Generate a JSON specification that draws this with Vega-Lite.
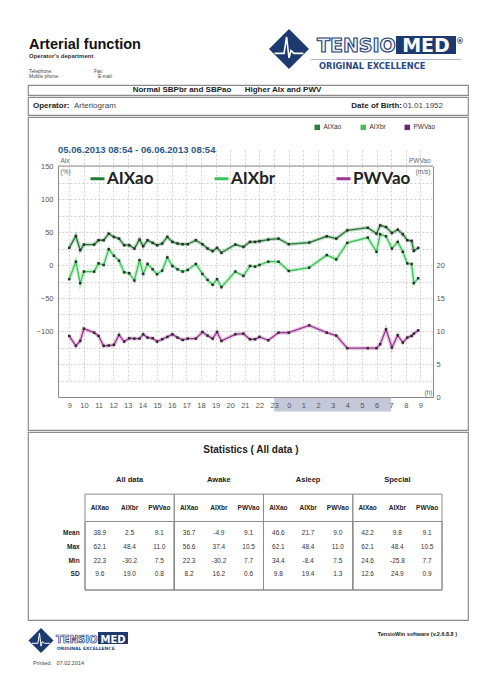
{
  "$schema": "https://vega.github.io/schema/vega-lite/v6.json",
  "background": "white",
  "padding": {"top": 29, "left": 27, "right": 17, "bottom": 0},
  "spacing": 0,
  "resolve": {"scale": {"color": "independent", "fill": "independent"}, "legend": {"color": "independent", "fill": "independent"}},
  "config": {
    "view": {"stroke": null},
    "font": "Liberation Sans",
    "title": {"font": "Liberation Sans"},
    "axis": {"labelFont": "Liberation Sans", "titleFont": "Liberation Sans"},
    "legend": {"labelFont": "Liberation Sans"}
  },
  "datasets": {
    "chart": [
      {"t": 9.0, "AIXao": 26, "AIXbr": -21.5, "PWVao": 9.25},
      {"t": 9.45, "AIXao": 44, "AIXbr": 5, "PWVao": 7.75},
      {"t": 9.75, "AIXao": 22.5, "AIXbr": -27.5, "PWVao": 8.5},
      {"t": 10.0, "AIXao": 31, "AIXbr": -10, "PWVao": 10.35},
      {"t": 10.7, "AIXao": 31, "AIXbr": -10, "PWVao": 9.75},
      {"t": 11.0, "AIXao": 37.5, "AIXbr": 2.5, "PWVao": 9.25},
      {"t": 11.35, "AIXao": 37.5, "AIXbr": 0, "PWVao": 7.75},
      {"t": 11.7, "AIXao": 47.5, "AIXbr": 24, "PWVao": 7.8},
      {"t": 12.05, "AIXao": 42.5, "AIXbr": 14, "PWVao": 7.9},
      {"t": 12.4, "AIXao": 40, "AIXbr": 6.5, "PWVao": 9.4},
      {"t": 12.75, "AIXao": 30, "AIXbr": -11, "PWVao": 8.4},
      {"t": 13.1, "AIXao": 30, "AIXbr": -12.5, "PWVao": 8.9},
      {"t": 13.45, "AIXao": 25, "AIXbr": -23.5, "PWVao": 8.85},
      {"t": 13.8, "AIXao": 38.5, "AIXbr": 7.5, "PWVao": 8.85},
      {"t": 14.05, "AIXao": 28.5, "AIXbr": -13.5, "PWVao": 9.5},
      {"t": 14.35, "AIXao": 37.5, "AIXbr": 1.5, "PWVao": 9.0},
      {"t": 14.7, "AIXao": 33.5, "AIXbr": -6.5, "PWVao": 8.9},
      {"t": 15.0, "AIXao": 30, "AIXbr": -14, "PWVao": 8.4},
      {"t": 15.35, "AIXao": 32.5, "AIXbr": -8.5, "PWVao": 8.75},
      {"t": 15.7, "AIXao": 42.5, "AIXbr": 11.5, "PWVao": 9.1},
      {"t": 16.05, "AIXao": 35, "AIXbr": -1.5, "PWVao": 9.5},
      {"t": 16.4, "AIXao": 32.5, "AIXbr": -6.5, "PWVao": 9.0},
      {"t": 16.75, "AIXao": 31.5, "AIXbr": -10, "PWVao": 8.65},
      {"t": 17.1, "AIXao": 31.5, "AIXbr": -7.5, "PWVao": 8.85},
      {"t": 17.65, "AIXao": 37.5, "AIXbr": 1.5, "PWVao": 8.85},
      {"t": 18.1, "AIXao": 31.5, "AIXbr": -13.5, "PWVao": 9.85},
      {"t": 18.45, "AIXao": 25, "AIXbr": -22.5, "PWVao": 9.3},
      {"t": 18.8, "AIXao": 21, "AIXbr": -30, "PWVao": 8.85},
      {"t": 19.1, "AIXao": 26, "AIXbr": -21.5, "PWVao": 9.85},
      {"t": 19.4, "AIXao": 18.5, "AIXbr": -33.5, "PWVao": 8.5},
      {"t": 20.35, "AIXao": 31, "AIXbr": -10, "PWVao": 9.5},
      {"t": 20.9, "AIXao": 27.5, "AIXbr": -16.5, "PWVao": 9.6},
      {"t": 21.35, "AIXao": 35, "AIXbr": -1.5, "PWVao": 8.75},
      {"t": 21.7, "AIXao": 35, "AIXbr": -2.5, "PWVao": 8.75},
      {"t": 22.0, "AIXao": 36, "AIXbr": 0, "PWVao": 9.1},
      {"t": 22.6, "AIXao": 38.5, "AIXbr": 5, "PWVao": 8.6},
      {"t": 23.3, "AIXao": 40, "AIXbr": 5, "PWVao": 9.75},
      {"t": 24.0, "AIXao": 31.5, "AIXbr": -9, "PWVao": 9.75},
      {"t": 25.4, "AIXao": 34, "AIXbr": -4, "PWVao": 10.85},
      {"t": 26.6, "AIXao": 43.5, "AIXbr": 15, "PWVao": 9.75},
      {"t": 27.25, "AIXao": 40, "AIXbr": 8.5, "PWVao": 9.3},
      {"t": 28.0, "AIXao": 52.5, "AIXbr": 33.5, "PWVao": 7.4},
      {"t": 29.4, "AIXao": 56.5, "AIXbr": 41.5, "PWVao": 7.4},
      {"t": 30.0, "AIXao": 47.5, "AIXbr": 20, "PWVao": 7.4},
      {"t": 30.25, "AIXao": 60, "AIXbr": 46.5, "PWVao": 8.0},
      {"t": 30.65, "AIXao": 57.5, "AIXbr": 43.5, "PWVao": 10.25},
      {"t": 31.05, "AIXao": 48.5, "AIXbr": 25, "PWVao": 7.5},
      {"t": 31.45, "AIXao": 53.5, "AIXbr": 35, "PWVao": 9.35},
      {"t": 31.8, "AIXao": 46.5, "AIXbr": 20, "PWVao": 8.25},
      {"t": 32.1, "AIXao": 37.5, "AIXbr": 2.5, "PWVao": 9.0},
      {"t": 32.4, "AIXao": 36.5, "AIXbr": 1.5, "PWVao": 9.25},
      {"t": 32.55, "AIXao": 21.5, "AIXbr": -27.5, "PWVao": 9.6},
      {"t": 32.85, "AIXao": 26, "AIXbr": -20, "PWVao": 10.1}
    ],
    "night": [{"period": "asleep", "start": 23, "end": 31}],
    "frame": [{"edge": "top", "from": 8.23, "to": 33.86, "level": 150}],
    "logo": [{"brand": "TENSIOMED"}],
    "groups": [{"group": "All data"}, {"group": "Awake"}, {"group": "Asleep"}, {"group": "Special"}],
    "metrics": [
      {"group": "All data", "metric": "AIXao"}, {"group": "All data", "metric": "AIXbr"}, {"group": "All data", "metric": "PWVao"},
      {"group": "Awake", "metric": "AIXao"}, {"group": "Awake", "metric": "AIXbr"}, {"group": "Awake", "metric": "PWVao"},
      {"group": "Asleep", "metric": "AIXao"}, {"group": "Asleep", "metric": "AIXbr"}, {"group": "Asleep", "metric": "PWVao"},
      {"group": "Special", "metric": "AIXao"}, {"group": "Special", "metric": "AIXbr"}, {"group": "Special", "metric": "PWVao"}
    ],
    "rowlabels": [{"stat": "Mean"}, {"stat": "Max"}, {"stat": "Min"}, {"stat": "SD"}],
    "stats": [
      {"group": "All data", "stat": "Mean", "metric": "AIXao", "value": "38.9"},
      {"group": "All data", "stat": "Mean", "metric": "AIXbr", "value": "2.5"},
      {"group": "All data", "stat": "Mean", "metric": "PWVao", "value": "9.1"},
      {"group": "All data", "stat": "Max", "metric": "AIXao", "value": "62.1"},
      {"group": "All data", "stat": "Max", "metric": "AIXbr", "value": "48.4"},
      {"group": "All data", "stat": "Max", "metric": "PWVao", "value": "11.0"},
      {"group": "All data", "stat": "Min", "metric": "AIXao", "value": "22.3"},
      {"group": "All data", "stat": "Min", "metric": "AIXbr", "value": "-30.2"},
      {"group": "All data", "stat": "Min", "metric": "PWVao", "value": "7.5"},
      {"group": "All data", "stat": "SD", "metric": "AIXao", "value": "9.6"},
      {"group": "All data", "stat": "SD", "metric": "AIXbr", "value": "19.0"},
      {"group": "All data", "stat": "SD", "metric": "PWVao", "value": "0.8"},
      {"group": "Awake", "stat": "Mean", "metric": "AIXao", "value": "36.7"},
      {"group": "Awake", "stat": "Mean", "metric": "AIXbr", "value": "-4.9"},
      {"group": "Awake", "stat": "Mean", "metric": "PWVao", "value": "9.1"},
      {"group": "Awake", "stat": "Max", "metric": "AIXao", "value": "56.6"},
      {"group": "Awake", "stat": "Max", "metric": "AIXbr", "value": "37.4"},
      {"group": "Awake", "stat": "Max", "metric": "PWVao", "value": "10.5"},
      {"group": "Awake", "stat": "Min", "metric": "AIXao", "value": "22.3"},
      {"group": "Awake", "stat": "Min", "metric": "AIXbr", "value": "-30.2"},
      {"group": "Awake", "stat": "Min", "metric": "PWVao", "value": "7.7"},
      {"group": "Awake", "stat": "SD", "metric": "AIXao", "value": "8.2"},
      {"group": "Awake", "stat": "SD", "metric": "AIXbr", "value": "16.2"},
      {"group": "Awake", "stat": "SD", "metric": "PWVao", "value": "0.6"},
      {"group": "Asleep", "stat": "Mean", "metric": "AIXao", "value": "46.6"},
      {"group": "Asleep", "stat": "Mean", "metric": "AIXbr", "value": "21.7"},
      {"group": "Asleep", "stat": "Mean", "metric": "PWVao", "value": "9.0"},
      {"group": "Asleep", "stat": "Max", "metric": "AIXao", "value": "62.1"},
      {"group": "Asleep", "stat": "Max", "metric": "AIXbr", "value": "48.4"},
      {"group": "Asleep", "stat": "Max", "metric": "PWVao", "value": "11.0"},
      {"group": "Asleep", "stat": "Min", "metric": "AIXao", "value": "34.4"},
      {"group": "Asleep", "stat": "Min", "metric": "AIXbr", "value": "-8.4"},
      {"group": "Asleep", "stat": "Min", "metric": "PWVao", "value": "7.5"},
      {"group": "Asleep", "stat": "SD", "metric": "AIXao", "value": "9.8"},
      {"group": "Asleep", "stat": "SD", "metric": "AIXbr", "value": "19.4"},
      {"group": "Asleep", "stat": "SD", "metric": "PWVao", "value": "1.3"},
      {"group": "Special", "stat": "Mean", "metric": "AIXao", "value": "42.2"},
      {"group": "Special", "stat": "Mean", "metric": "AIXbr", "value": "9.8"},
      {"group": "Special", "stat": "Mean", "metric": "PWVao", "value": "9.1"},
      {"group": "Special", "stat": "Max", "metric": "AIXao", "value": "62.1"},
      {"group": "Special", "stat": "Max", "metric": "AIXbr", "value": "48.4"},
      {"group": "Special", "stat": "Max", "metric": "PWVao", "value": "10.5"},
      {"group": "Special", "stat": "Min", "metric": "AIXao", "value": "24.6"},
      {"group": "Special", "stat": "Min", "metric": "AIXbr", "value": "-25.8"},
      {"group": "Special", "stat": "Min", "metric": "PWVao", "value": "7.7"},
      {"group": "Special", "stat": "SD", "metric": "AIXao", "value": "12.6"},
      {"group": "Special", "stat": "SD", "metric": "AIXbr", "value": "24.9"},
      {"group": "Special", "stat": "SD", "metric": "PWVao", "value": "0.9"}
    ],
    "info": [
      {"side": "left", "label": "Operator:", "value": "Arteriogram"},
      {"side": "right", "label": "Date of Birth:", "value": "01.01.1952"}
    ]
  },
  "vconcat": [
    {
      "width": 440, "height": 1,
      "title": {
        "text": "Arterial function", "anchor": "start", "frame": "group", "dx": 1,
        "fontSize": 14.5, "fontWeight": "bold", "color": "#111",
        "subtitle": "Operator's department", "subtitleFontSize": 6, "subtitleFontWeight": "bold", "subtitleColor": "#333",
        "subtitlePadding": 0.5, "offset": -30.5
      },
      "layer": [
        {"data": {"values": [{"label": "Telephone:"}]}, "mark": {"type": "text", "align": "left", "baseline": "alphabetic", "fontSize": 4.8, "color": "#444", "dx": -219, "dy": -10.5}, "encoding": {"text": {"field": "label"}}},
        {"data": {"values": [{"label": "Fax:"}]}, "mark": {"type": "text", "align": "left", "baseline": "alphabetic", "fontSize": 4.8, "color": "#444", "dx": -154, "dy": -10.5}, "encoding": {"text": {"field": "label"}}},
        {"data": {"values": [{"label": "Mobile phone:"}]}, "mark": {"type": "text", "align": "left", "baseline": "alphabetic", "fontSize": 4.8, "color": "#444", "dx": -219, "dy": -5.5}, "encoding": {"text": {"field": "label"}}},
        {"data": {"values": [{"label": "E-mail:"}]}, "mark": {"type": "text", "align": "left", "baseline": "alphabetic", "fontSize": 4.8, "color": "#444", "dx": -150, "dy": -5.5}, "encoding": {"text": {"field": "label"}}},
        {"data": {"name": "logo"}, "mark": {"type": "point", "shape": "M-1,0L1,0", "size": 22500, "filled": false, "color": "#9aa8c0", "strokeWidth": 0.8, "opacity": 1, "xOffset": 138, "yOffset": -24}, "encoding": {}},
        {"data": {"name": "logo"}, "mark": {"type": "point", "shape": "diamond", "size": 1600, "filled": true, "color": "#1d3a70", "opacity": 1, "xOffset": 41, "yOffset": -34.5}, "encoding": {}},
        {"data": {"name": "logo"}, "mark": {"type": "point", "shape": "M-0.72,0.22L-0.25,0.22L-0.12,-0.6L0,0.45L0.1,0.08L0.25,0.22L0.72,0.22", "size": 1600, "filled": false, "color": "white", "strokeWidth": 1.6, "opacity": 1, "xOffset": 41, "yOffset": -34.5}, "encoding": {}},
        {"data": {"name": "logo"}, "mark": {"type": "point", "shape": "M-1,-0.3L1,-0.3L1,0.3L-1,0.3Z", "size": 3600, "filled": true, "color": "#1d3a70", "opacity": 1, "xOffset": 178, "yOffset": -38.5}, "encoding": {}},
        {"data": {"values": [{"part": "TENSIO"}]}, "mark": {"type": "text", "align": "left", "baseline": "alphabetic", "font": "DejaVu Sans", "fontSize": 19, "fontWeight": "bold", "fill": "#eef2fa", "stroke": "#1d3a70", "strokeWidth": 1.1, "dx": 69, "dy": -31.5}, "encoding": {"text": {"field": "part"}}},
        {"data": {"values": [{"part": "MED"}]}, "mark": {"type": "text", "align": "center", "baseline": "alphabetic", "font": "DejaVu Sans", "fontSize": 19, "fontWeight": "bold", "color": "white", "dx": 178, "dy": -31.5}, "encoding": {"text": {"field": "part"}}},
        {"data": {"values": [{"part": "®"}]}, "mark": {"type": "text", "align": "center", "baseline": "alphabetic", "font": "DejaVu Sans", "fontSize": 8, "fontWeight": "bold", "color": "#1d3a70", "dx": 212, "dy": -40}, "encoding": {"text": {"field": "part"}}},
        {"data": {"values": [{"part": "ORIGINAL EXCELLENCE"}]}, "mark": {"type": "text", "align": "left", "baseline": "alphabetic", "font": "DejaVu Sans", "fontSize": 8.3, "fontWeight": "bold", "color": "#2a4a86", "dx": 71, "dy": -14.5}, "encoding": {"text": {"field": "part"}}}
      ]
    },
    {
      "width": 440, "height": 10,
      "view": {"stroke": "#8c8c8c", "strokeWidth": 1.2},
      "data": {"values": [{"summary": "Normal SBPbr and SBPao\u00a0\u00a0\u00a0\u00a0\u00a0\u00a0Higher AIx and PWV"}]},
      "mark": {"type": "text", "fontSize": 8, "fontWeight": "bold", "color": "#222", "dx": -21},
      "encoding": {"text": {"field": "summary"}}
    },
    {
      "width": 440, "height": 18,
      "view": {"stroke": "#8c8c8c", "strokeWidth": 1.2},
      "data": {"name": "info"},
      "encoding": {
        "x": {"field": "side", "type": "nominal", "scale": {"type": "point", "domain": ["left", "right"], "range": [5, 415], "padding": 0}, "axis": null}
      },
      "layer": [
        {"transform": [{"filter": "datum.side == 'left'"}], "mark": {"type": "text", "align": "left", "fontSize": 8, "fontWeight": "bold", "color": "#222"}, "encoding": {"text": {"field": "label"}}},
        {"transform": [{"filter": "datum.side == 'left'"}], "mark": {"type": "text", "align": "left", "fontSize": 8, "color": "#444", "dx": 41}, "encoding": {"text": {"field": "value"}}},
        {"transform": [{"filter": "datum.side == 'right'"}], "mark": {"type": "text", "align": "right", "fontSize": 8, "fontWeight": "bold", "color": "#222", "dx": -41}, "encoding": {"text": {"field": "label"}}},
        {"transform": [{"filter": "datum.side == 'right'"}], "mark": {"type": "text", "align": "right", "fontSize": 8, "color": "#444"}, "encoding": {"text": {"field": "value"}}}
      ]
    },
    {
      "width": 440, "height": 313,
      "view": {"stroke": "#8c8c8c", "strokeWidth": 1.2},
      "layer": [
        {
          "data": {"name": "night"},
          "mark": {"type": "rect", "color": "#c4c8d8", "clip": false},
          "encoding": {
            "x": {"field": "start", "type": "quantitative",
              "scale": {"domain": [8.23, 33.86], "range": [30, 405], "nice": false, "zero": false},
              "axis": {"orient": "bottom", "offset": -33, "values": [9,10,11,12,13,14,15,16,17,18,19,20,21,22,23,24,25,26,27,28,29,30,31,32,33], "labels": false, "ticks": false, "domain": false, "grid": true, "gridColor": "#c4c4c4", "gridDash": [2, 2], "gridWidth": 0.8, "title": null, "zindex": 0}},
            "x2": {"field": "end"},
            "y": {"datum": -200, "type": "quantitative", "scale": {"domain": [-200, 150], "range": [280, 49], "nice": false, "zero": false}, "axis": null},
            "y2": {"datum": -222}
          }
        },
        {
          "data": {"name": "frame"},
          "mark": {"type": "rule", "color": "#8a8a8a", "strokeWidth": 1},
          "encoding": {
            "x": {"field": "from", "type": "quantitative", "axis": null},
            "x2": {"field": "to"},
            "y": {"field": "level", "type": "quantitative", "scale": {"domain": [-200, 150], "range": [280, 49], "nice": false, "zero": false}, "axis": null}
          }
        },
        {
          "data": {"values": [{"period": "05.06.2013 08:54 - 06.06.2013 08:54"}]},
          "mark": {"type": "text", "align": "left", "baseline": "alphabetic", "fontSize": 9.5, "fontWeight": "bold", "color": "#2c5a88", "clip": false},
          "encoding": {
            "text": {"field": "period"},
            "x": {"datum": 8.23, "type": "quantitative", "axis": null},
            "y": {"datum": 169.7, "type": "quantitative", "scale": {"domain": [-200, 150], "range": [280, 49], "nice": false, "zero": false}, "axis": null}
          }
        },
        {
          "data": {"name": "chart"},
          "transform": [{"fold": ["AIXao", "AIXbr"], "as": ["series", "value"]}],
          "mark": {"type": "line", "strokeWidth": 1.3},
          "encoding": {
            "x": {"field": "t", "type": "quantitative",
              "axis": {"orient": "bottom", "offset": -33, "values": [9,10,11,12,13,14,15,16,17,18,19,20,21,22,23,24,25,26,27,28,29,30,31,32,33], "labelExpr": "datum.value % 24", "grid": false, "ticks": false, "domainColor": "#8a8a8a", "labelFontSize": 7.5, "labelColor": "#555", "labelPadding": 4, "title": "(h)", "titleX": 404, "titleY": -3, "titleAlign": "right", "titleBaseline": "alphabetic", "titleFontSize": 6.5, "titleFontWeight": "normal", "titleColor": "#666", "zindex": 1}},
            "y": {"field": "value", "type": "quantitative",
              "scale": {"domain": [-200, 150], "range": [280, 49], "nice": false, "zero": false},
              "axis": {"orient": "left", "offset": -30, "values": [-200,-175,-150,-125,-100,-75,-50,-25,0,25,50,75,100,125,150], "labelExpr": "datum.value % 50 === 0 && datum.value >= -100 ? datum.label : ''", "grid": true, "gridColor": "#c4c4c4", "gridDash": [2, 2], "gridWidth": 0.8, "ticks": false, "domainColor": "#8a8a8a", "labelFontSize": 7.5, "labelColor": "#555", "labelPadding": 5, "title": ["Aix", "(%)"], "titleAngle": 0, "titleAlign": "left", "titleBaseline": "alphabetic", "titleX": 2, "titleY": 45, "titleLineHeight": 11, "titleFontSize": 6.5, "titleFontWeight": "normal", "titleColor": "#666"}},
            "color": {"field": "series", "type": "nominal",
              "scale": {"domain": {"unionWith": ["AIXao", "AIXbr", "PWVao"]}, "range": ["#237a35", "#3cc35a", "#9a3590"]},
              "legend": {"orient": "none", "legendX": 61, "legendY": 53, "direction": "horizontal", "title": null, "symbolType": "stroke", "symbolSize": 196, "symbolStrokeWidth": 3, "symbolOpacity": 1, "labelFontSize": 17, "labelFont": "Lato", "labelFontWeight": "bold", "labelColor": "#222", "columnPadding": 54, "labelOffset": 1}}
          }
        },
        {
          "data": {"name": "chart"},
          "transform": [{"fold": ["AIXao", "AIXbr"], "as": ["series", "value"]}],
          "mark": {"type": "line", "strokeWidth": 4, "opacity": 0.25},
          "encoding": {
            "x": {"field": "t", "type": "quantitative", "axis": null},
            "y": {"field": "value", "type": "quantitative", "scale": {"domain": [-200, 150], "range": [280, 49], "nice": false, "zero": false}, "axis": null},
            "color": {"field": "series", "type": "nominal",
              "legend": {"orient": "none", "legendX": 61, "legendY": 53, "direction": "horizontal", "title": null, "symbolType": "stroke", "symbolSize": 196, "symbolStrokeWidth": 3, "symbolOpacity": 1, "labelFontSize": 17, "labelFont": "Lato", "labelFontWeight": "bold", "labelColor": "#222", "columnPadding": 54, "labelOffset": 1}}
          }
        },
        {
          "data": {"name": "chart"},
          "transform": [{"fold": ["AIXao", "AIXbr"], "as": ["series", "value"]}],
          "mark": {"type": "square", "size": 6, "color": "#2b2b2b", "opacity": 1},
          "encoding": {
            "x": {"field": "t", "type": "quantitative", "axis": null},
            "y": {"field": "value", "type": "quantitative", "scale": {"domain": [-200, 150], "range": [280, 49], "nice": false, "zero": false}, "axis": null}
          }
        },
        {
          "data": {"name": "chart"},
          "transform": [{"fold": ["AIXao", "AIXbr"], "as": ["series", "value"]}],
          "mark": {"type": "square", "opacity": 0},
          "encoding": {
            "x": {"field": "t", "type": "quantitative", "axis": null},
            "y": {"field": "value", "type": "quantitative", "scale": {"domain": [-200, 150], "range": [280, 49], "nice": false, "zero": false}, "axis": null},
            "fill": {"field": "series", "type": "nominal",
              "scale": {"domain": ["AIXao", "AIXbr", "PWVao"], "range": ["#2e7d3c", "#4cbb5c", "#6b2a6b"]},
              "legend": {"orient": "none", "legendX": 286, "legendY": 7, "direction": "horizontal", "title": null, "symbolType": "square", "symbolSize": 30, "symbolOpacity": 1, "symbolStrokeWidth": 0, "labelFontSize": 6.5, "labelColor": "#333", "columnPadding": 18, "labelOffset": 3}}
          }
        },
        {
          "data": {"name": "chart"},
          "mark": {"type": "line", "strokeWidth": 1.3},
          "encoding": {
            "x": {"field": "t", "type": "quantitative", "axis": null},
            "y": {"field": "PWVao", "type": "quantitative",
              "scale": {"domain": [0, 35], "range": [280, 49], "nice": false, "zero": false},
              "axis": {"orient": "right", "offset": -35, "values": [0, 5, 10, 15, 20], "grid": false, "ticks": false, "domainColor": "#8a8a8a", "labelFontSize": 7.5, "labelColor": "#555", "labelPadding": 3, "title": ["PWVao", "(m/s)"], "titleAngle": 0, "titleAlign": "right", "titleBaseline": "alphabetic", "titleX": -3, "titleY": 45, "titleLineHeight": 11, "titleFontSize": 6.5, "titleFontWeight": "normal", "titleColor": "#666"}},
            "color": {"datum": "PWVao", "type": "nominal",
              "legend": {"orient": "none", "legendX": 61, "legendY": 53, "direction": "horizontal", "title": null, "symbolType": "stroke", "symbolSize": 196, "symbolStrokeWidth": 3, "symbolOpacity": 1, "labelFontSize": 17, "labelFont": "Lato", "labelFontWeight": "bold", "labelColor": "#222", "columnPadding": 54, "labelOffset": 1}}
          }
        },
        {
          "data": {"name": "chart"},
          "mark": {"type": "line", "strokeWidth": 4, "opacity": 0.25},
          "encoding": {
            "x": {"field": "t", "type": "quantitative", "axis": null},
            "y": {"field": "PWVao", "type": "quantitative", "scale": {"domain": [0, 35], "range": [280, 49], "nice": false, "zero": false}, "axis": null},
            "color": {"datum": "PWVao", "type": "nominal",
              "legend": {"orient": "none", "legendX": 61, "legendY": 53, "direction": "horizontal", "title": null, "symbolType": "stroke", "symbolSize": 196, "symbolStrokeWidth": 3, "symbolOpacity": 1, "labelFontSize": 17, "labelFont": "Lato", "labelFontWeight": "bold", "labelColor": "#222", "columnPadding": 54, "labelOffset": 1}}
          }
        },
        {
          "data": {"name": "chart"},
          "mark": {"type": "square", "size": 6, "color": "#2b2b2b", "opacity": 1},
          "encoding": {
            "x": {"field": "t", "type": "quantitative", "axis": null},
            "y": {"field": "PWVao", "type": "quantitative", "scale": {"domain": [0, 35], "range": [280, 49], "nice": false, "zero": false}, "axis": null}
          }
        }
      ],
      "resolve": {"scale": {"y": "independent"}, "axis": {"x": "independent", "y": "independent"}}
    },
    {
      "width": 440, "height": 188,
      "view": {"stroke": "#8c8c8c", "strokeWidth": 1.2},
      "layer": [
        {
          "data": {"name": "groups"},
          "mark": {"type": "rect", "filled": false, "stroke": "#8c8c8c", "strokeWidth": 1},
          "encoding": {
            "x": {"field": "group", "type": "nominal", "scale": {"type": "band", "domain": ["All data", "Awake", "Asleep", "Special"], "range": [57, 414], "paddingInner": 0, "paddingOuter": 0}, "axis": null},
            "y": {"datum": "_a", "type": "ordinal", "scale": {"type": "point", "domain": ["ttl", "_t", "grp", "_a", "met", "_b", "Mean", "Max", "Min", "SD", "_c"], "range": [21, 158], "padding": 0}, "axis": null},
            "y2": {"datum": "_c"}
          }
        },
        {
          "data": {"name": "groups"},
          "mark": {"type": "rect", "filled": false, "stroke": "#8c8c8c", "strokeWidth": 1},
          "encoding": {
            "x": {"field": "group", "type": "nominal", "axis": null},
            "y": {"datum": "_b", "type": "ordinal", "axis": null},
            "y2": {"datum": "_c"}
          }
        },
        {
          "data": {"values": [{"heading": "Statistics ( All data )"}]},
          "mark": {"type": "text", "fontSize": 10, "fontWeight": "bold", "color": "#222", "baseline": "alphabetic", "dx": 32},
          "encoding": {
            "x": {"datum": "Awake", "type": "nominal", "axis": null},
            "y": {"datum": "ttl", "type": "ordinal", "axis": null},
            "text": {"field": "heading"}
          }
        },
        {
          "data": {"name": "groups"},
          "mark": {"type": "text", "fontSize": 7.5, "fontWeight": "bold", "color": "#222"},
          "encoding": {
            "x": {"field": "group", "type": "nominal", "axis": null},
            "y": {"datum": "grp", "type": "ordinal", "axis": null},
            "text": {"field": "group"}
          }
        },
        {
          "data": {"name": "metrics"},
          "mark": {"type": "text", "fontSize": 6.5, "fontWeight": "bold", "color": "#222"},
          "encoding": {
            "x": {"field": "group", "type": "nominal", "axis": null},
            "xOffset": {"field": "metric", "type": "nominal", "scale": {"domain": ["AIXao", "AIXbr", "PWVao"]}},
            "y": {"datum": "met", "type": "ordinal", "axis": null},
            "text": {"field": "metric"}
          }
        },
        {
          "data": {"name": "stats"},
          "mark": {"type": "text", "fontSize": 6.5, "color": "#333", "dy": -2},
          "encoding": {
            "x": {"field": "group", "type": "nominal", "axis": null},
            "xOffset": {"field": "metric", "type": "nominal", "scale": {"domain": ["AIXao", "AIXbr", "PWVao"]}},
            "y": {"field": "stat", "type": "ordinal", "axis": null},
            "text": {"field": "value"}
          }
        },
        {
          "data": {"name": "rowlabels"},
          "mark": {"type": "text", "fontSize": 6.5, "fontWeight": "bold", "color": "#222", "align": "right", "dx": -50, "dy": -2},
          "encoding": {
            "x": {"datum": "All data", "type": "nominal", "axis": null},
            "y": {"field": "stat", "type": "ordinal", "axis": null},
            "text": {"field": "stat"}
          }
        }
      ],
      "resolve": {"scale": {"xOffset": "independent"}}
    },
    {
      "width": 440, "height": 45,
      "layer": [
        {"data": {"name": "logo"}, "mark": {"type": "point", "shape": "diamond", "size": 625, "filled": true, "color": "#1d3a70", "opacity": 1, "xOffset": -207, "yOffset": -3}, "encoding": {}},
        {"data": {"name": "logo"}, "mark": {"type": "point", "shape": "M-0.72,0.22L-0.25,0.22L-0.12,-0.6L0,0.45L0.1,0.08L0.25,0.22L0.72,0.22", "size": 625, "filled": false, "color": "white", "strokeWidth": 1, "opacity": 1, "xOffset": -207, "yOffset": -3}, "encoding": {}},
        {"data": {"name": "logo"}, "mark": {"type": "point", "shape": "M-1,-0.4L1,-0.4L1,0.4L-1,0.4Z", "size": 900, "filled": true, "color": "#1d3a70", "opacity": 1, "xOffset": -135, "yOffset": -5.5}, "encoding": {}},
        {"data": {"values": [{"part": "TENSIO"}]}, "mark": {"type": "text", "align": "left", "baseline": "alphabetic", "font": "DejaVu Sans", "fontSize": 10, "fontWeight": "bold", "fill": "#eef2fa", "stroke": "#1d3a70", "strokeWidth": 0.7, "dx": -192, "dy": -1}, "encoding": {"text": {"field": "part"}}},
        {"data": {"values": [{"part": "MED"}]}, "mark": {"type": "text", "align": "center", "baseline": "alphabetic", "font": "DejaVu Sans", "fontSize": 10, "fontWeight": "bold", "color": "white", "dx": -135, "dy": -1}, "encoding": {"text": {"field": "part"}}},
        {"data": {"values": [{"part": "ORIGINAL EXCELLENCE"}]}, "mark": {"type": "text", "align": "left", "baseline": "alphabetic", "font": "DejaVu Sans", "fontSize": 4.5, "fontWeight": "bold", "color": "#2a4a86", "dx": -191, "dy": 6.5}, "encoding": {"text": {"field": "part"}}},
        {"data": {"values": [{"label": "TensioWin software (v.2.6.8.8 )"}]}, "mark": {"type": "text", "align": "right", "baseline": "alphabetic", "fontSize": 5.5, "fontWeight": "bold", "color": "#222", "dx": 209, "dy": -7.5}, "encoding": {"text": {"field": "label"}}},
        {"data": {"values": [{"label": "Printed:\u00a0\u00a0 07.02.2014"}]}, "mark": {"type": "text", "align": "left", "baseline": "alphabetic", "fontSize": 5.5, "color": "#444", "dx": -215, "dy": 21.5}, "encoding": {"text": {"field": "label"}}}
      ]
    }
  ]
}
